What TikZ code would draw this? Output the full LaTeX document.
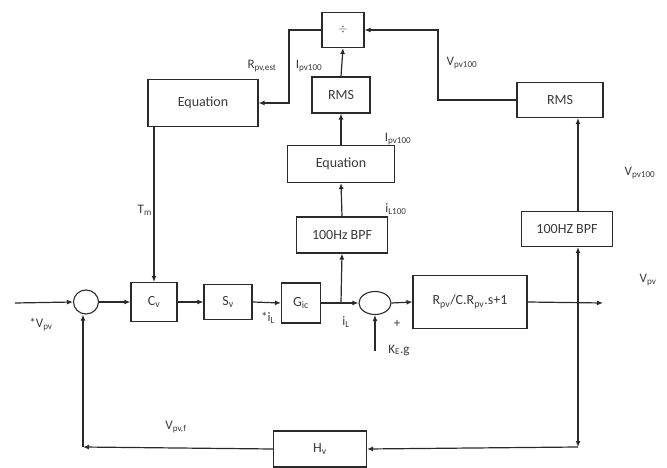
\documentclass[tikz,border=0pt]{standalone}
\usepackage{fontspec}
\setmainfont{Carlito}
\usepackage{xcolor}
\usepackage{tikz}
\usetikzlibrary{arrows.meta,positioning,shapes.geometric}
\definecolor{LineGrey}  {HTML}{2A2A2A}
\definecolor{TextGrey}  {HTML}{3A3A3A}

\begin{document}
\begin{tikzpicture}[x=1pt,y=-1pt,
    font=\fontsize{14}{16}\selectfont,text=TextGrey,
    blk/.style={draw=LineGrey,line width=1.1pt,inner sep=0pt,align=center},
    sumjn/.style={draw=LineGrey,line width=1.1pt,ellipse,inner sep=0pt},
    wire/.style={draw=LineGrey,line width=1.2pt},
    sig/.style={wire,-{Latex[length=6pt,width=5pt]}},
    lbl/.style={inner sep=1pt,font=\fontsize{13}{15}\selectfont}]
    \useasboundingbox (0,0) rectangle (667,468);
    \node[blk,minimum width=42pt,minimum height=35pt] (div) at (343,30) {\large$\div$};
    \node[blk,minimum width=110pt,minimum height=47pt] (eqtop) at (203,103) {Equation};
    \node[blk,minimum width=58pt,minimum height=36pt] (rmsmid) at (341,95) {RMS};
    \node[blk,minimum width=86pt,minimum height=35pt] (rmsout) at (560,100) {RMS};
    \node[blk,minimum width=107pt,minimum height=37pt] (eqmid) at (341,164) {Equation};
    \node[blk,minimum width=91pt,minimum height=36pt] (bpfcur) at (342,235) {100Hz BPF};
    \node[blk,minimum width=91pt,minimum height=35pt] (bpfvolt) at (567,229) {100HZ BPF};
    \node[sumjn,minimum width=25pt,minimum height=24pt] (sumv) at (86,302) {};
    \node[blk,minimum width=46pt,minimum height=39pt] (cv) at (154,302) {C\textsubscript{v}};
    \node[blk,minimum width=48pt,minimum height=35pt] (sv) at (228,302) {S\textsubscript{v}};
    \node[blk,minimum width=39pt,minimum height=40pt] (gic) at (301,303) {G\textsubscript{ic}};
    \node[sumjn,minimum width=32pt,minimum height=23pt] (sumi) at (375,303) {};
    \node[blk,minimum width=114pt,minimum height=53pt] (plant) at (470,302) {R\textsubscript{pv}/C.R\textsubscript{pv}.s+1};
    \node[blk,minimum width=93pt,minimum height=36pt] (hv) at (320,449) {H\textsubscript{v}};

    \coordinate (vin) at (15,303);
    \coordinate (kin) at (375,351);
    \coordinate (brcur) at (341,303);
    \coordinate (brvolt) at (578,303);
    \coordinate (vout) at (603,303);
    \coordinate (cnrr) at (578,447);
    \coordinate (cnrl) at (83,447);

    \draw[sig] (vin) -- (sumv.west);
    \draw[sig] (sumv.east) -- (cv.west);
    \draw[sig] (cv.east) -- (sv.west);
    \draw[sig] (sv.east) -- (gic.west);
    \draw[sig] (gic.east) -- (sumi.west);
    \draw[sig] (kin) -- (sumi.south);
    \draw[sig] (sumi.east) -- (plant.west);
    \draw[sig] (plant.east) -- (vout);
    \draw[sig] (brcur) -- (bpfcur.south);
    \draw[sig] (bpfcur.north) -- (eqmid.south);
    \draw[sig] (eqmid.north) -- (rmsmid.south);
    \draw[sig] (rmsmid.north) -- (div.south);
    \draw[sig] (div.west) -- (289,30) |- (eqtop.east);
    \draw[sig] (eqtop.south -| cv.north) -- (cv.north);
    \draw[sig] (brvolt) -- (bpfvolt.south -| brvolt);
    \draw[sig] (bpfvolt.north -| brvolt) -- (rmsout.south -| brvolt);
    \draw[sig] (rmsout.west) -- (438,100) |- (div.east);
    \draw[sig] (brvolt) -- (cnrr);
    \draw[sig] (cnrr) -- (hv.east);
    \draw[sig] (hv.west) -- (cnrl);
    \draw[sig] (cnrl) -- (sumv.south -| cnrl);

    \node[lbl] (lvin) at (41,325) {*V\textsubscript{pv}};
    \node[lbl,anchor=east] (ltm) at (153,210) {T\textsubscript{m}};
    \node[lbl] (liref) at (268,318) {*i\textsubscript{L}};
    \node[lbl] (lil) at (346,322) {i\textsubscript{L}};
    \node[lbl] (lplus) at (397,324) {+};
    \node[lbl] (lkg) at (399,350) {K\textsubscript{E}.g};
    \node[lbl] (lvpv) at (648,280) {V\textsubscript{pv}};
    \node[lbl] (lvrmsin) at (640,173) {V\textsubscript{pv100}};
    \node[lbl] (lvrmsout) at (462,63) {V\textsubscript{pv100}};
    \node[lbl] (lrest) at (262,66) {R\textsubscript{pv,est}};
    \node[lbl] (lirms) at (309,66) {I\textsubscript{pv100}};
    \node[lbl] (lieq) at (398,139) {I\textsubscript{pv100}};
    \node[lbl] (lil100) at (396,209) {i\textsubscript{L100}};
    \node[lbl] (lvf) at (176,427) {V\textsubscript{pv,f}};
\end{tikzpicture}
\end{document}
